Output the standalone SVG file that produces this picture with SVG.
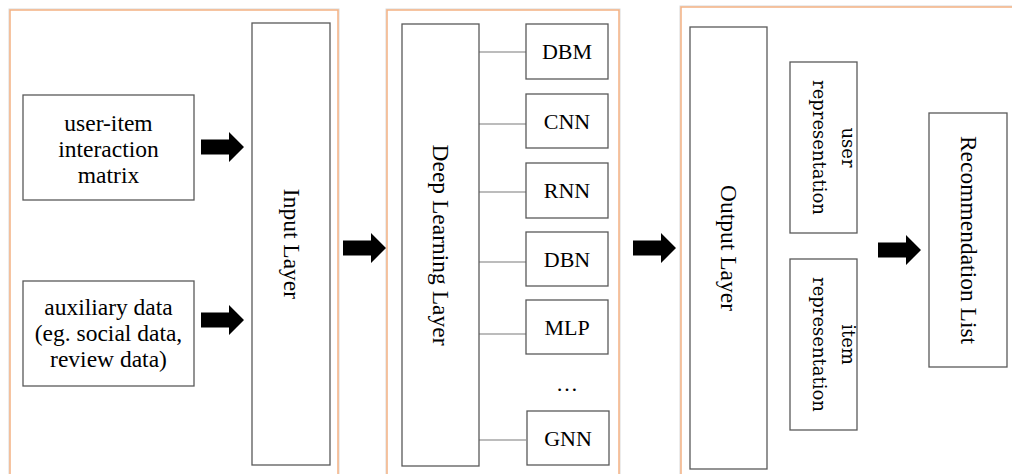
<svg xmlns="http://www.w3.org/2000/svg" width="1012" height="474" viewBox="0 0 1012 474">
  <defs>
    <style>
      .panel { fill: none; stroke: #f4b183; stroke-width: 1.5; }
      .halo { fill: none; stroke: #d9d9d9; stroke-width: 1; }
      .box { fill: #ffffff; stroke: #595959; stroke-width: 1.3; }
      .link { stroke: #a6a6a6; stroke-width: 1.3; fill: none; }
      .txt { font-family: "Liberation Serif", "Times New Roman", serif; font-size: 22px; fill: #000000; }
      .big { font-size: 23.5px; }
      .rep { font-family: "DejaVu Serif", serif; font-size: 18px; fill: #000000; }
      .mid { text-anchor: middle; }
    </style>
    <!-- block arrow, origin at the tail centre -->
    <path id="blockArrow" d="M0,-7.5 H28 V-15 L43,0 L28,15 V7.5 H0 Z" fill="#000000"/>
  </defs>

  <rect width="1012" height="474" fill="#ffffff"/>

  <!-- stage frames -->
  <g id="frames">
    <rect class="halo" x="9" y="9" width="330" height="480"/>
    <rect class="panel" x="10" y="10" width="328" height="480"/>
    <rect class="halo" x="386" y="9" width="234" height="480"/>
    <rect class="panel" x="387" y="10" width="232" height="480"/>
    <rect class="halo" x="680" y="6" width="350" height="480"/>
    <rect class="panel" x="681" y="7" width="350" height="480"/>
  </g>

  <!-- connectors -->
  <g id="connectors">
    <line class="link" x1="479" y1="52" x2="526" y2="52"/>
    <line class="link" x1="479" y1="124" x2="526" y2="124"/>
    <line class="link" x1="479" y1="192" x2="526" y2="192"/>
    <line class="link" x1="479" y1="262" x2="526" y2="262"/>
    <line class="link" x1="479" y1="334" x2="526" y2="334"/>
    <line class="link" x1="479" y1="440" x2="526" y2="440"/>
    <use href="#blockArrow" transform="translate(201,147)"/>
    <use href="#blockArrow" transform="translate(201,320)"/>
    <use href="#blockArrow" transform="translate(343,248)"/>
    <use href="#blockArrow" transform="translate(633,248)"/>
    <use href="#blockArrow" transform="translate(878,250)"/>
  </g>

  <!-- input stage -->
  <g id="user-item-matrix">
    <rect class="box" x="23" y="95" width="171" height="105"/>
    <text class="txt big mid" x="108.5" y="131">user-item</text>
    <text class="txt big mid" x="108.5" y="157">interaction</text>
    <text class="txt big mid" x="108.5" y="183">matrix</text>
  </g>
  <g id="auxiliary-data">
    <rect class="box" x="23" y="281" width="171" height="105"/>
    <text class="txt big mid" x="108.5" y="315">auxiliary data</text>
    <text class="txt big mid" x="108.5" y="341">(eg. social data,</text>
    <text class="txt big mid" x="108.5" y="367">review data)</text>
  </g>
  <g id="input-layer">
    <rect class="box" x="252" y="23" width="78" height="442"/>
    <text class="txt big mid" transform="translate(284,244) rotate(90)">Input Layer</text>
  </g>

  <!-- deep learning stage -->
  <g id="deep-learning-layer">
    <rect class="box" x="402" y="24" width="77" height="442"/>
    <text class="txt big mid" transform="translate(433,245) rotate(90)">Deep Learning Layer</text>
  </g>
  <g id="dbm">
    <rect class="box" x="526" y="24" width="82" height="55"/>
    <text class="txt mid" x="567" y="59">DBM</text>
  </g>
  <g id="cnn">
    <rect class="box" x="526" y="94" width="82" height="54"/>
    <text class="txt mid" x="567" y="128.5">CNN</text>
  </g>
  <g id="rnn">
    <rect class="box" x="526" y="163" width="82" height="55"/>
    <text class="txt mid" x="567" y="198">RNN</text>
  </g>
  <g id="dbn">
    <rect class="box" x="526" y="232" width="82" height="54"/>
    <text class="txt mid" x="567" y="266.5">DBN</text>
  </g>
  <g id="mlp">
    <rect class="box" x="526" y="300" width="82" height="54"/>
    <text class="txt mid" x="567" y="334.5">MLP</text>
  </g>
  <g id="more-models">
    <text class="txt mid" x="567" y="391">…</text>
  </g>
  <g id="gnn">
    <rect class="box" x="527" y="411" width="82" height="54"/>
    <text class="txt mid" x="568" y="445.5">GNN</text>
  </g>

  <!-- output stage -->
  <g id="output-layer">
    <rect class="box" x="690" y="27" width="77" height="442"/>
    <text class="txt big mid" transform="translate(721,248) rotate(90)">Output Layer</text>
  </g>
  <g id="user-representation">
    <rect class="box" x="790" y="62" width="67" height="171"/>
    <text class="rep mid" transform="translate(842,147.5) rotate(90)">user<tspan x="0" dy="29">representation</tspan></text>
  </g>
  <g id="item-representation">
    <rect class="box" x="790" y="259" width="67" height="171"/>
    <text class="rep mid" transform="translate(842,344.5) rotate(90)">item<tspan x="0" dy="29">representation</tspan></text>
  </g>
  <g id="recommendation-list">
    <rect class="box" x="929" y="113" width="78" height="254"/>
    <text class="txt big mid" transform="translate(961,240) rotate(90)">Recommendation List</text>
  </g>
</svg>
